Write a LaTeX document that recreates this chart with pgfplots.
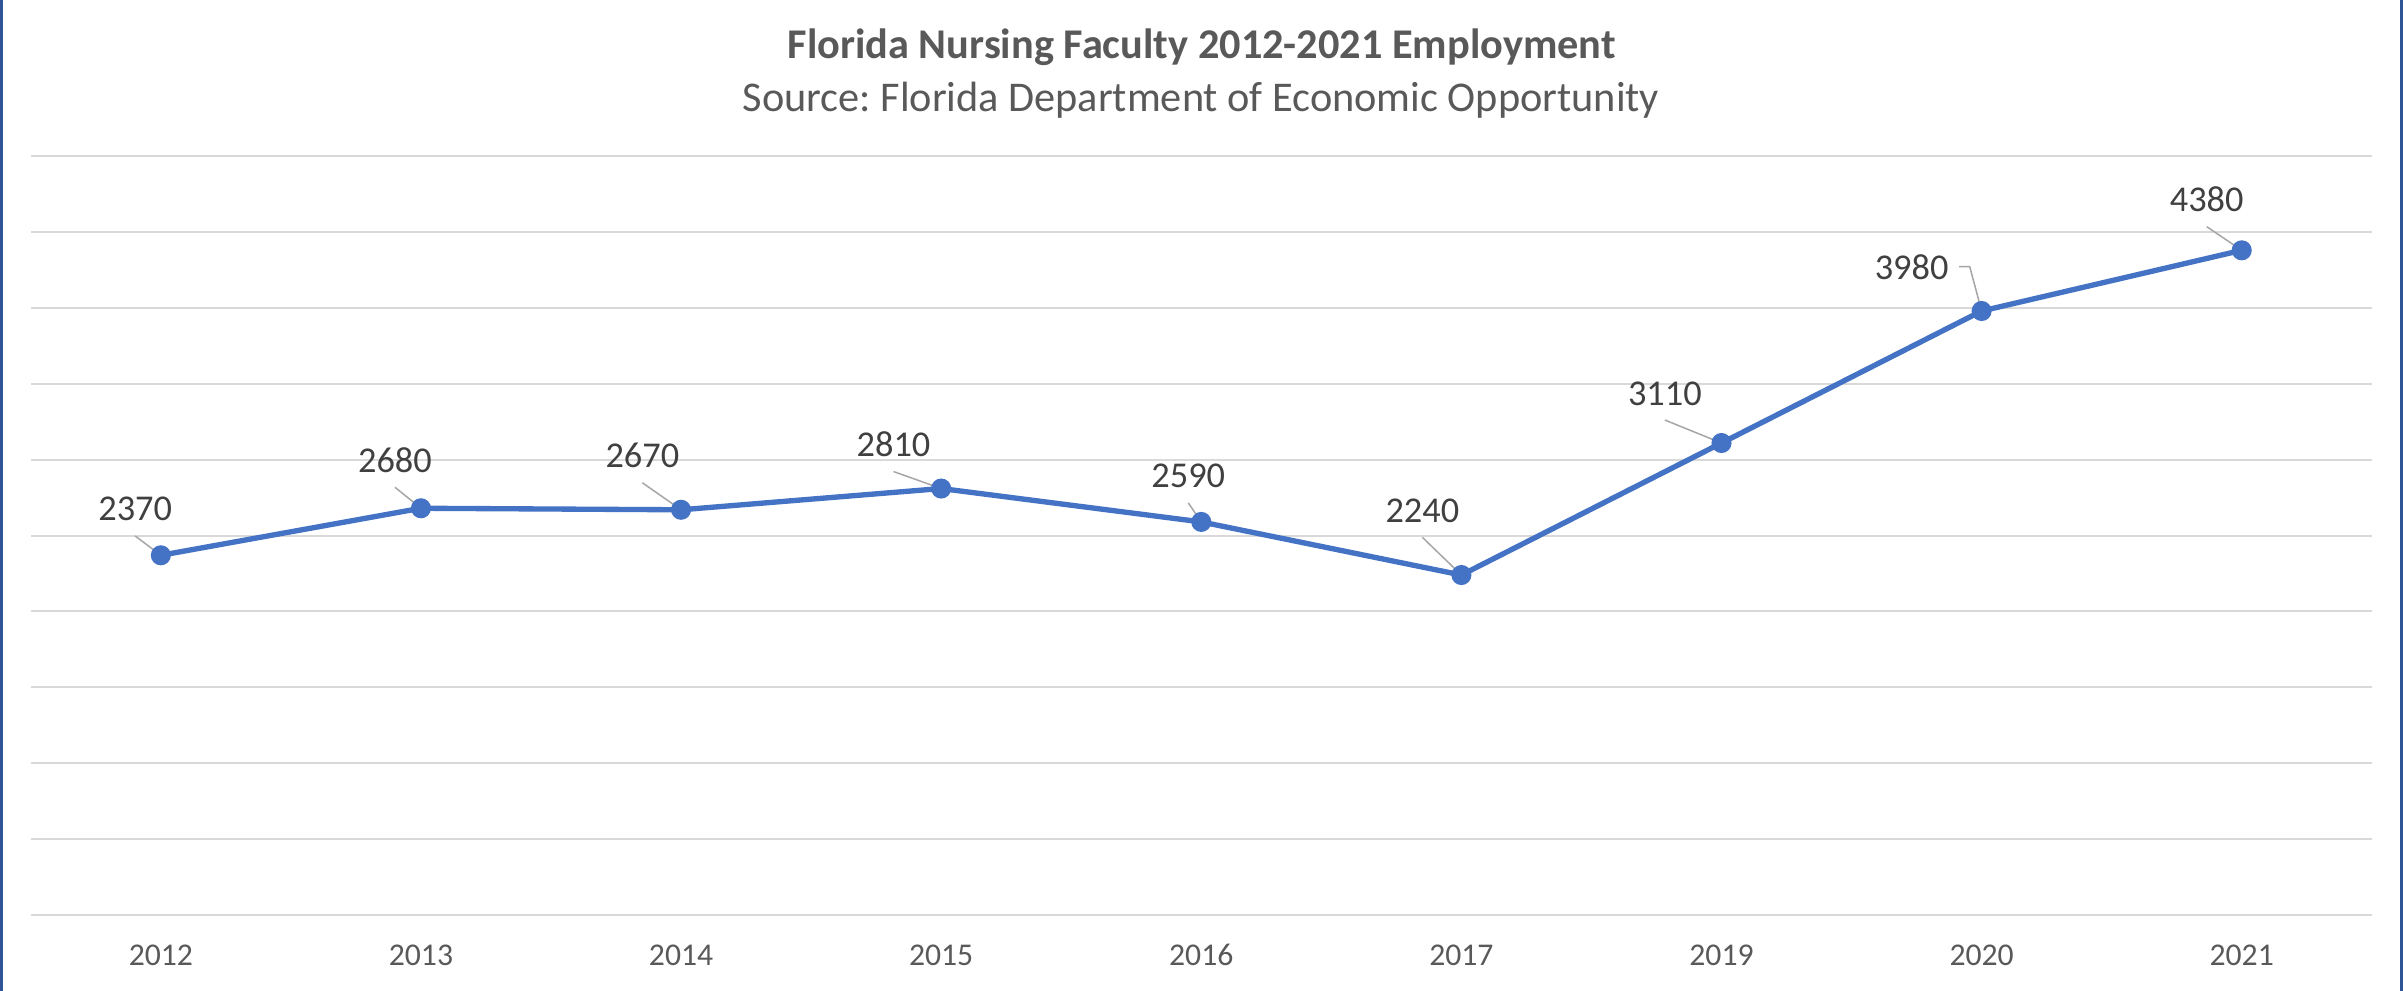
\documentclass[border=0pt]{standalone}
\usepackage{fontspec}
\setmainfont{Carlito}
\usepackage{pgfplots}
\pgfplotsset{compat=1.18}
\definecolor{lineblue}{HTML}{4472C4}
\definecolor{gridgray}{HTML}{D9D9D9}
\definecolor{titlegray}{HTML}{595959}
\definecolor{labelgray}{HTML}{404040}
\definecolor{leadergray}{HTML}{A6A6A6}
\definecolor{frameblue}{HTML}{2F5597}
\frenchspacing
\begin{document}
\begin{tikzpicture}
\useasboundingbox (0,0) rectangle (720.9pt,297.3pt);
\fill[white] (0,0) rectangle (720.9pt,297.3pt);
\draw[frameblue, line width=0.8pt] (0.4pt,0) -- (0.4pt,297.3pt);
\draw[frameblue, line width=0.8pt] (720.5pt,0) -- (720.5pt,297.3pt);
\node[anchor=base, text=titlegray, font=\fontsize{12.7}{15}\selectfont\bfseries] at (360.5pt,279.6pt) {Florida Nursing Faculty 2012-2021 Employment};
\node[anchor=base, text=titlegray, font=\fontsize{12.7}{15}\selectfont] at (360.3pt,263.8pt) {Source: Florida Department of Economic Opportunity};
\begin{axis}[
  at={(9.24pt,22.83pt)}, anchor=south west,
  scale only axis, width=702.3pt, height=227.6pt,
  xmin=-0.5, xmax=8.5, ymin=0, ymax=5000,
  ytick={0,500,...,5000}, yticklabels={},
  xtick={0,...,8},
  xticklabels={2012,2013,2014,2015,2016,2017,2019,2020,2021},
  xticklabel style={anchor=center, yshift=-12pt, text=titlegray, font=\fontsize{9.5}{11}\selectfont},
  ymajorgrids, grid style={gridgray, line width=0.6pt},
  axis line style={draw=none}, major tick length=0pt,
  clip=false,
]
\addplot[lineblue, line width=1.6pt, mark=*, mark size=2.2pt, mark options={fill=lineblue, draw=lineblue}]
  coordinates {(0,2370) (1,2680) (2,2670) (3,2810) (4,2590) (5,2240) (6,3110) (7,3980) (8,4380)};
\tikzset{lbl/.style={anchor=base, text=labelgray, font=\fontsize{10.9}{13}\selectfont, inner sep=0pt},
         leader/.style={leadergray, line width=0.45pt}}
\node[lbl] (l0) at ([shift={(-7.7pt,10.3pt)}]axis cs:0,2370) {2370};
\node[lbl] (l1) at ([shift={(-7.8pt,10.8pt)}]axis cs:1,2680) {2680};
\node[lbl] (l2) at ([shift={(-11.6pt,12.6pt)}]axis cs:2,2670) {2670};
\node[lbl] (l3) at ([shift={(-14.3pt,9.6pt)}]axis cs:3,2810) {2810};
\node[lbl] (l4) at ([shift={(-3.9pt,10.2pt)}]axis cs:4,2590) {2590};
\node[lbl] (l5) at ([shift={(-11.7pt,15.8pt)}]axis cs:5,2240) {2240};
\node[lbl] (l6) at ([shift={(-17pt,11.4pt)}]axis cs:6,3110) {3110};
\node[lbl] (l7) at ([shift={(-21pt,9.6pt)}]axis cs:7,3980) {3980};
\node[lbl] (l8) at ([shift={(-10.5pt,11.6pt)}]axis cs:8,4380) {4380};
\draw[leader] ([yshift=-4.5pt]l0.base) -- (axis cs:0,2370);
\draw[leader] ([yshift=-4.5pt]l1.base) -- (axis cs:1,2680);
\draw[leader] ([yshift=-4.5pt]l2.base) -- (axis cs:2,2670);
\draw[leader] ([yshift=-4.5pt]l3.base) -- (axis cs:3,2810);
\draw[leader] ([yshift=-4.5pt]l4.base) -- (axis cs:4,2590);
\draw[leader] ([yshift=-4.5pt]l5.base) -- (axis cs:5,2240);
\draw[leader] ([yshift=-4.5pt]l6.base) -- (axis cs:6,3110);
\draw[leader] ([xshift=3pt]l7.east) -- ([xshift=6.2pt]l7.east) -- (axis cs:7,3980);
\draw[leader] ([yshift=-4.5pt]l8.base) -- (axis cs:8,4380);
\end{axis}
\end{tikzpicture}
\end{document}
